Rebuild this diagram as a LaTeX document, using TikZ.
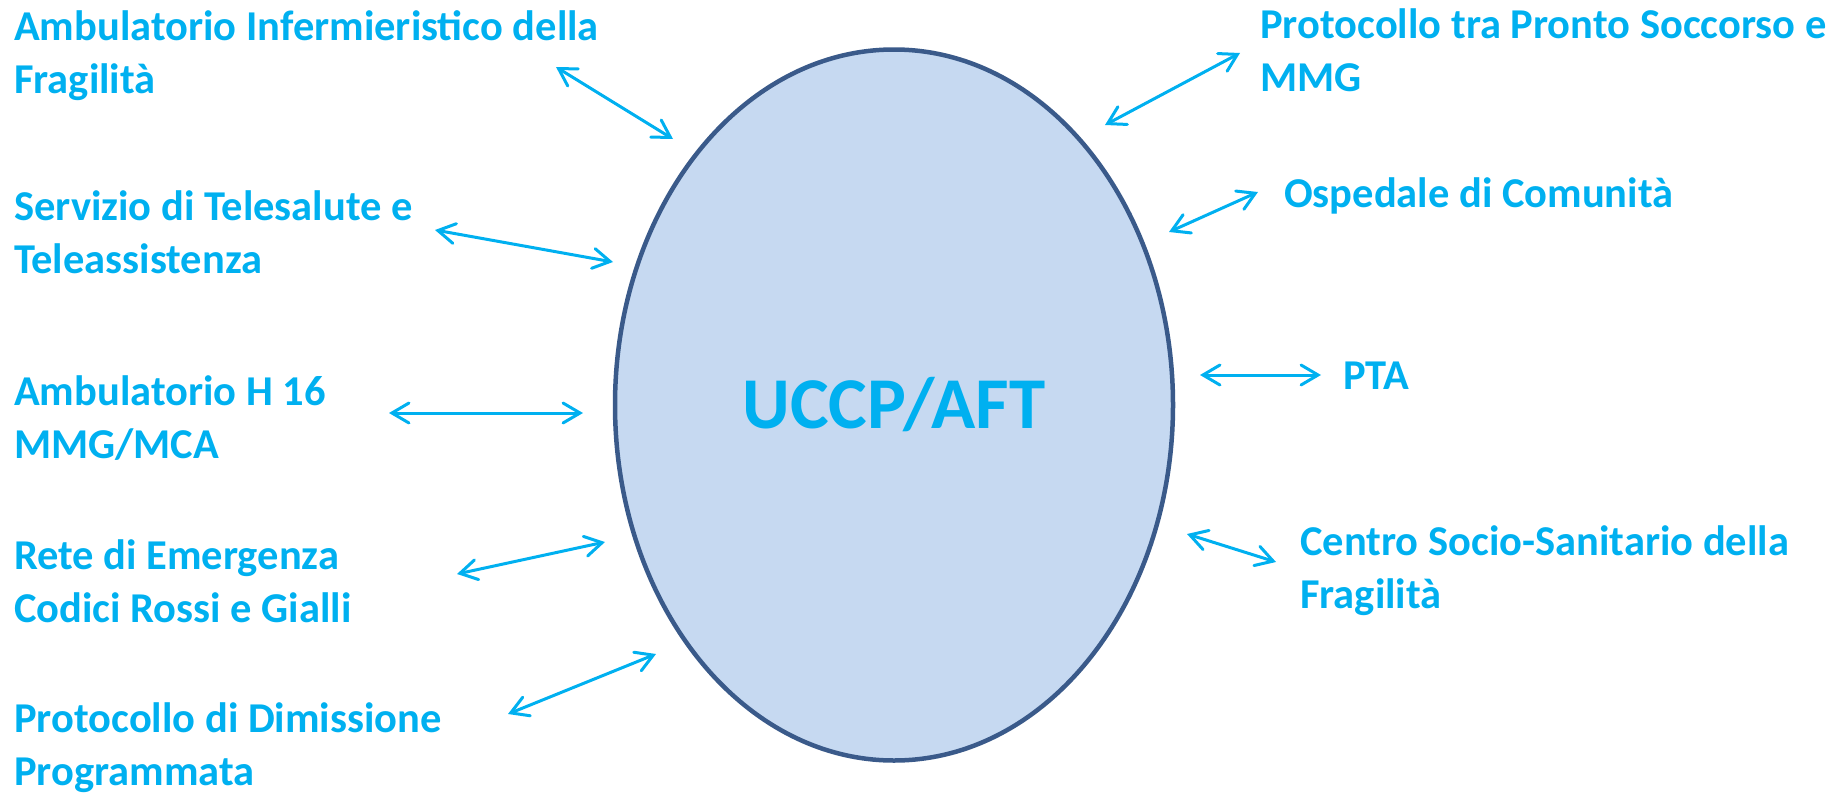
\documentclass[tikz,border=0pt]{standalone}
\usepackage{fontspec}
\setmainfont{Carlito}
\usetikzlibrary{arrows.meta,shapes.geometric}
\definecolor{labelblue}{HTML}{00B0F0}
\definecolor{ovalfill}{HTML}{C6D9F1}
\definecolor{ovalline}{HTML}{3A5A8A}

\begin{document}
\begin{tikzpicture}[x=1pt,y=-1pt,
	every node/.style={font=\bfseries\fontsize{42.5}{53}\selectfont,text=labelblue,align=left,inner sep=0pt,anchor=base west},
	link/.style={draw=labelblue,line width=3pt,line cap=round,{Straight Barb[length=17pt,width=20pt,line cap=round]}-{Straight Barb[length=17pt,width=20pt,line cap=round]}}]
	\useasboundingbox (0,0) rectangle (1847,795);
	\node[ellipse,draw=ovalline,fill=ovalfill,line width=4.5pt,minimum width=558pt,minimum height=711pt,anchor=center,font=\bfseries\fontsize{73}{80}\selectfont] (uccp) at (894,405) {UCCP/AFT};
	% left side (y = baseline of last line)
	\node (ambinf) at (14,93) {Ambulatorio Infermieristico della\\Fragilità};
	\node (tele) at (14,273) {Servizio di Telesalute e\\Teleassistenza};
	\node (h16) at (14,458) {Ambulatorio H 16\\MMG/MCA};
	\node (rete) at (14,622) {Rete di Emergenza\\Codici Rossi e Gialli};
	\node (dimiss) at (14,785) {Protocollo di Dimissione\\Programmata};
	% right side
	\node (pronto) at (1260,91) {Protocollo tra Pronto Soccorso e\\MMG};
	\node (osped) at (1284,207) {Ospedale di Comunità};
	\node (pta) at (1343,389) {PTA};
	\node (centro) at (1300,608) {Centro Socio-Sanitario della\\Fragilità};
	% arrow ends
	\coordinate (ambinf-a) at (556,67);   \coordinate (ambinf-b) at (673,139);
	\coordinate (tele-a) at (435,230);    \coordinate (tele-b) at (613,262);
	\coordinate (h16-a) at (389,413);     \coordinate (h16-b) at (583,413);
	\coordinate (rete-a) at (457,574);    \coordinate (rete-b) at (605,542);
	\coordinate (dimiss-a) at (508,714);  \coordinate (dimiss-b) at (656,654);
	\coordinate (pronto-a) at (1240,53);  \coordinate (pronto-b) at (1105,125);
	\coordinate (osped-a) at (1258,192);  \coordinate (osped-b) at (1169,232);
	\coordinate (pta-a) at (1321,375);    \coordinate (pta-b) at (1200,375);
	\coordinate (centro-a) at (1276,562); \coordinate (centro-b) at (1187,534);
	\foreach \from/\to in {ambinf-a/ambinf-b,tele-a/tele-b,h16-a/h16-b,rete-a/rete-b,dimiss-a/dimiss-b,pronto-a/pronto-b,osped-a/osped-b,pta-a/pta-b,centro-a/centro-b}
		\draw [link] (\from) -- (\to);
\end{tikzpicture}
\end{document}
